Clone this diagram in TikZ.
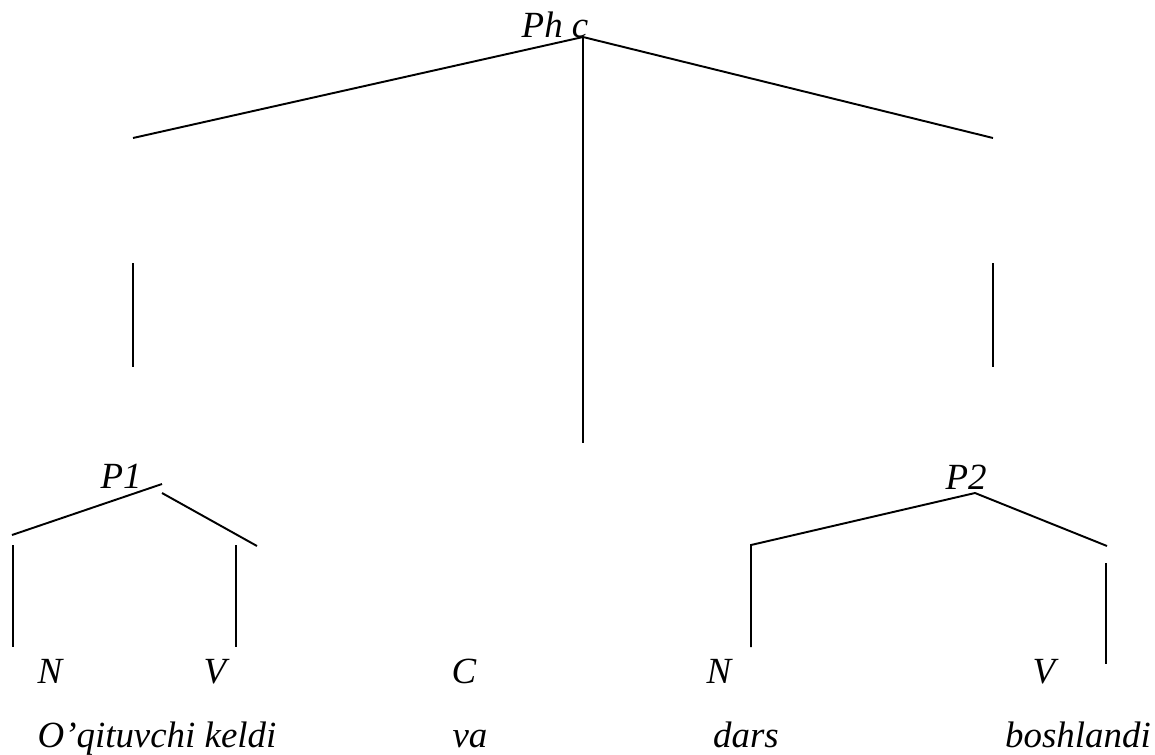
\documentclass[tikz,border=0pt]{standalone}
\usepackage{fontspec}
\setmainfont{Liberation Serif}
\usetikzlibrary{calc}

\begin{document}
\begin{tikzpicture}[x=0.02cm,y=-0.02cm,line width=1.1pt,
  every node/.style={inner sep=0pt,anchor=base,font=\fontsize{21}{25}\selectfont\itshape}]
  \useasboundingbox (0,0) rectangle (1155,754);
  % labels
  \path (555,37) node (phc) {Ph c} (121,488) node (p1) {P1} (966,489) node (p2) {P2}
  (50,683) node (n1) {N} (215,683) node (v1) {V} (464,683) node (c) {C}
  (719,683) node (n2) {N} (1044,683) node (v2) {V};
  \path (157,747) node (w1) {O’qituvchi keldi} (470,747) node (w2) {va}
  (746,747) node (w3) {dars} (1078,747) node (w4) {boshlandi};
  % branch points
  \path (583,37) coordinate (a0) (133,138) coordinate (a1) (993,138) coordinate (a2)
  (583,443) coordinate (a3) (133,263) coordinate (b1) (133,367) coordinate (b2)
  (993,263) coordinate (b3) (993,367) coordinate (b4);
  \path (162,484) coordinate (c0) (12,535) coordinate (c1) (162,493) coordinate (c2)
  (257,546) coordinate (c3) (13,545) coordinate (c4) (13,647) coordinate (c5)
  (236,545) coordinate (c6) (236,647) coordinate (c7);
  \path (975,493) coordinate (d0) (751,545) coordinate (d1) (1107,546) coordinate (d2)
  (751,647) coordinate (d3) (1106,563) coordinate (d4) (1106,664) coordinate (d5);
  \draw (a1) -- (a0) -- (a2);
  \draw (a0) -- (a3);
  \draw (b1) -- (b2);
  \draw (b3) -- (b4);
  \draw (c0) -- (c1);
  \draw (c2) -- (c3);
  \draw (c4) -- (c5);
  \draw (c6) -- (c7);
  \draw (d3) -- (d1) -- (d0) -- (d2);
  \draw (d4) -- (d5);
\end{tikzpicture}
\end{document}
